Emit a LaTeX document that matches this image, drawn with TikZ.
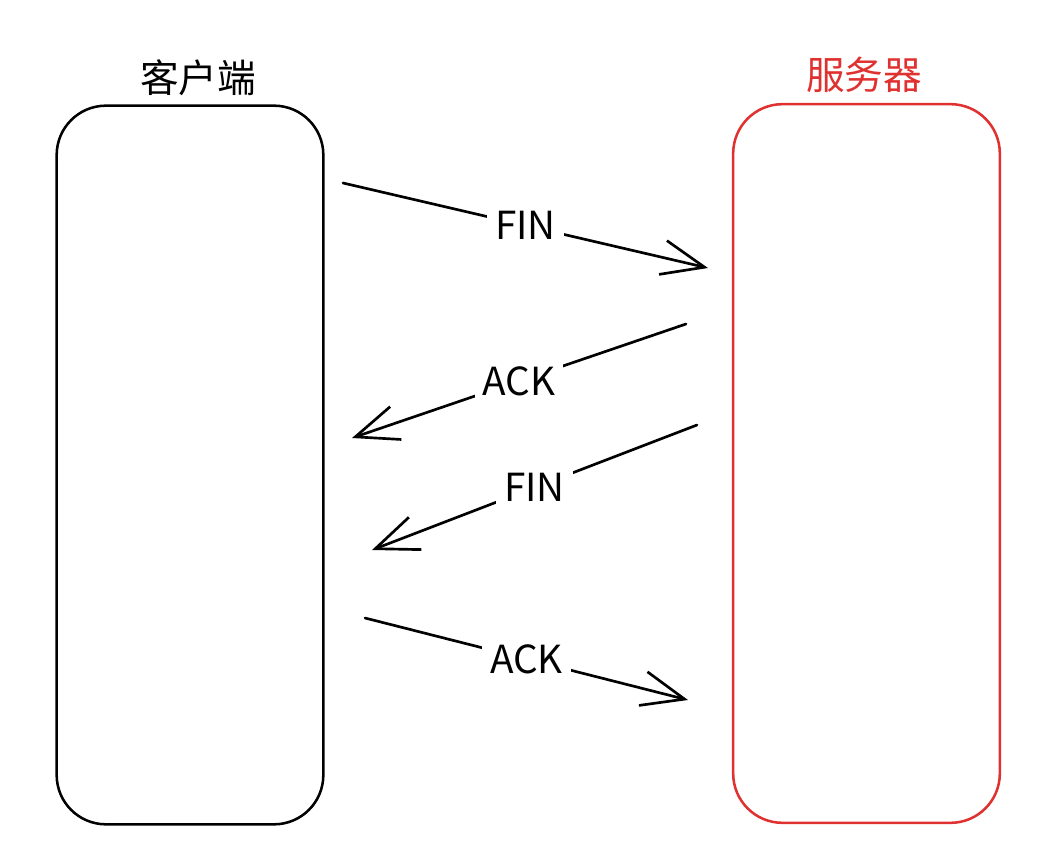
\documentclass[tikz,border=0pt]{standalone}
\usepackage{fontspec}
\setmainfont{Noto Sans CJK SC}
\usetikzlibrary{positioning,arrows.meta}
\definecolor{srvred}{HTML}{E03131}

\begin{document}
\begin{tikzpicture}[
  x=0.75pt, y=-0.75pt,
  font=\fontsize{29}{32}\selectfont,
  >={Straight Barb[length=32pt,width=26pt]},
  bx/.style={draw, line width=1.9pt, rounded corners=37pt, minimum width=200pt,
             minimum height=539pt, inner sep=0pt},
  tt/.style={inner sep=0pt},
  lb/.style={fill=white, inner sep=6pt},
  msg/.style={->, line width=2pt, line cap=round},
]
\useasboundingbox (0,0) rectangle (1050,866);

% the two ends
\node[bx] (cli) at (190,465) {};
\node[bx, srvred] (srv) at (866.5,463.5) {};
\node[tt] (clit) at (198,78) {客户端};
\node[tt, text=srvred] (srvt) at (864,75) {服务器};

% message ends
\coordinate (f1a) at (343,183);
\coordinate (f1b) at (708,268);
\coordinate (a1a) at (686,324);
\coordinate (a1b) at (352,438);
\coordinate (f2a) at (697,425);
\coordinate (f2b) at (372,550);
\coordinate (a2a) at (365,618);
\coordinate (a2b) at (688,700);

\draw[msg] (f1a) -- node[lb] (fin1) {FIN} (f1b);
\draw[msg] (a1a) -- node[lb] (ack1) {ACK} (a1b);
\draw[msg] (f2a) -- node[lb] (fin2) {FIN} (f2b);
\draw[msg] (a2a) -- node[lb] (ack2) {ACK} (a2b);
\end{tikzpicture}
\end{document}
